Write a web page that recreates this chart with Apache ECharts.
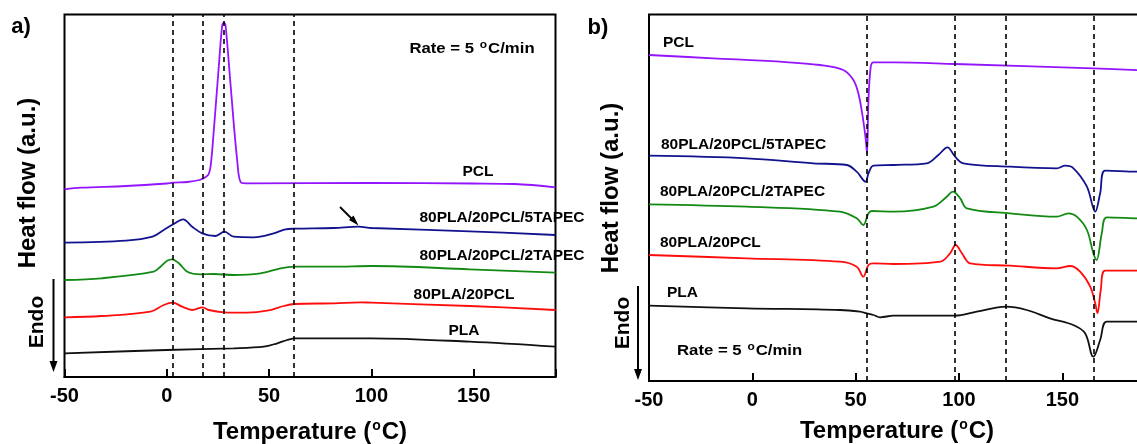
<!DOCTYPE html>
<html><head><meta charset="utf-8">
<script src="https://cdn.jsdelivr.net/npm/echarts@6/dist/echarts.min.js"></script>
<style>html,body{margin:0;padding:0;background:#fff}#c{width:1137px;height:444px}</style>
</head><body><div id="c"></div>
<script>
// ---- data (Temperature °C, heat flow a.u. offset) ----
const xTicks = [-50, 0, 50, 100, 150];
// panel a (cooling)
const aPCL = [[-50,187.7],[-42,189.3],[-20,191],[0,193.5],[3,194.3],[10,195],[16,197],[19,200],[20.5,203],[21.5,212],[23,247],[25.4,310],[27.1,352],[27.9,354],[28.7,352],[31.1,294],[34.4,217],[36.4,194.3],[40,193.7],[100,194],[150,193.5],[170,193],[190,189.7]];
const a5TAPEC = [[-50,134.3],[-20,136.3],[-7,140.3],[-1.5,147],[3.4,153],[8,157.7],[12.4,150.3],[17.3,143.7],[23.8,141],[28.2,145.3],[32.7,140.3],[42.5,139.7],[52.3,143.7],[58,147.7],[62.3,148.3],[81.6,149],[93.8,150.3],[100,149],[148,145.7],[190,142]];
const a2TAPEC = [[-50,97],[-32,98.7],[-6.4,105.3],[-3.1,110.3],[0.2,116.3],[2.6,117.7],[5.9,113.7],[10,105.3],[16.5,102.7],[23,103],[32.7,102],[45.8,103.7],[55.6,108.7],[62.3,110.3],[81.6,110.3],[100,111],[148,107.7],[190,104.3]];
const a20PCL = [[-50,59.7],[-32,61],[-8,65.3],[-1.5,72],[2.9,74.3],[7.5,70.3],[12.4,67],[17.6,69.7],[20.5,67],[27.9,64.7],[39.3,64.3],[49.1,66.3],[57.2,71],[62.3,73],[81.6,73.7],[94.7,74.7],[100,74.3],[148,71],[190,67]];
const aPLA = [[-50,23.7],[0,27],[32.7,28.7],[47.4,30.3],[54,33.7],[58.8,37],[62.9,38.7],[81.6,38.7],[100,38.7],[148,35.3],[190,30.3]];
const aDash = [3, 17.6, 28, 62.3];
// panel b (heating)
const bPCL = [[-50,326],[-19,322.7],[13.4,319.3],[32.8,316],[44,311],[48.9,301],[51.3,287.7],[53.4,264.3],[54.9,241],[55.5,227.5],[56.2,281],[57.3,314.3],[58.6,318.7],[68.3,318.7],[98.1,317],[165,312.7],[190,310.5]];
const b5TAPEC = [[-50,225.3],[-2.7,222.7],[29.5,217.7],[45.7,216],[50.5,209.3],[54.8,199.3],[56.2,207.7],[58.6,215.3],[68.3,216],[84.4,217.7],[90,226],[94.4,233.7],[98.1,224.3],[102.1,217.7],[124.7,214.3],[147.3,212.7],[151.4,215.3],[155.4,212.7],[161.9,194.3],[165.9,169.3],[168.3,187.7],[170.7,210.3],[186,209.3],[190,209]];
const b2TAPEC = [[-50,176.7],[-2.7,174.3],[42.4,169.3],[50.5,162.7],[53.7,156],[56.2,167.7],[57.8,170],[68.3,169.3],[87.6,174.3],[94.1,184.3],[97,189.3],[100.6,182.7],[103.8,172.7],[124.7,167.7],[147.3,164.3],[152.9,167.7],[157,164.3],[161.9,151],[165,127.7],[166.6,121],[169.1,147.7],[171.5,163.7],[186,162.7],[190,162.5]];
const b20PCL = [[-50,126],[-2.7,122.7],[42.4,119.3],[50.5,114.3],[53.7,104.3],[56.2,116],[58.6,117.7],[68.3,117],[90.9,119.3],[95.7,127.7],[98.4,136],[101.4,127.7],[105.4,117.7],[124.7,115.3],[147.3,112.7],[153.8,115],[158.6,109.3],[163.5,94.3],[165.9,77.7],[167,67.7],[168.6,91],[170.7,110.3],[186,110.3],[190,110.3]];
const bPLA = [[-50,75.3],[-2.7,72.7],[42.4,71],[52,69.3],[55.4,67.7],[58.6,66],[61.8,63.7],[68.3,65.3],[98.1,65.3],[108.6,69.3],[122.8,74.3],[132.7,71],[144,62.7],[155.3,56],[161,47.7],[164.2,26],[165,24.3],[168.3,41],[171.5,59.3],[186,59.3],[190,59.3]];
const bDash = [55.4, 98.1, 122.8, 165];
const names = ['PCL','80PLA/20PCL/5TAPEC','80PLA/20PCL/2TAPEC','80PLA/20PCL','PLA'];
const colors = ['#9414ff','#12128f','#138a13','#ff0d0d','#111111'];

const FF = '"Liberation Sans", Arial, sans-serif';
const chart = echarts.init(document.getElementById('c'), null, {renderer:'canvas'});

function xAx(gi, gap){
  return {
    gridIndex: gi, type:'value', min:-50, max:190, interval:50,
    axisLine:{show:true, lineStyle:{color:'#000', width:2}},
    axisTick:{show:true, inside:true, length:8, lineStyle:{color:'#000', width:2}},
    axisLabel:{margin:9, color:'#000', fontFamily:FF, fontWeight:'bold', fontSize:20,
      formatter: v => (xTicks.indexOf(v) >= 0 ? String(v) : '')},
    splitLine:{show:false},
    name:'Temperature ({s|o}C)', nameLocation:'middle', nameGap:gap,
    nameTextStyle:{color:'#000', fontFamily:FF, fontWeight:'bold', fontSize:24,
      rich:{s:{fontSize:14, fontFamily:FF, fontWeight:'bold', color:'#000', padding:[0,1,13,1]}}}
  };
}
function yAx(gi, max){
  return {gridIndex:gi, type:'value', min:0, max:max, show:false};
}
function mkSeries(gi, arr, color, dash){
  const s = {type:'line', xAxisIndex:gi, yAxisIndex:gi, data:arr, showSymbol:false, symbol:'none',
    smooth:0.35, lineStyle:{color:color, width:1.8}, silent:true, animation:false};
  if (dash) {
    s.markLine = {silent:true, symbol:['none','none'], label:{show:false},
      lineStyle:{color:'#000', type:[5,4], width:1.6}, data: dash.map(v => ({xAxis:v})), animation:false};
  }
  return s;
}
const series = [];
[aPCL,a5TAPEC,a2TAPEC,a20PCL,aPLA].forEach((d,i)=>series.push(mkSeries(0,d,colors[i], i===0?aDash:null)));
[bPCL,b5TAPEC,b2TAPEC,b20PCL,bPLA].forEach((d,i)=>series.push(mkSeries(1,d,colors[i], i===0?bDash:null)));

function txt(x,y,t,opts){
  opts = opts||{};
  return {type:'text', x:x, y:y, rotation:opts.rot||0, scaleX:opts.sx||1, z:10,
    style:{text:t, fill:'#000', font:'bold '+(opts.size||15.5)+'px '+FF,
      align:opts.align||'center', verticalAlign:'middle',
      rich: opts.rich || undefined}};
}
const supRich = (sz)=>({s:{fontSize:sz, fontFamily:FF, fontWeight:'bold', fill:'#000', padding:[0,1,9,1]}});
function arrowDown(x,y0,y1){
  return [
    {type:'line', shape:{x1:x,y1:y0,x2:x,y2:y1-9}, style:{stroke:'#000', lineWidth:2}},
    {type:'polygon', shape:{points:[[x-4,y1-11],[x+4,y1-11],[x,y1]]}, style:{fill:'#000'}}
  ];
}
const graphic = [
  txt(21,27,'a)',{size:22}),
  txt(598,28,'b)',{size:22}),
  txt(28,183,'Heat flow (a.u.)',{size:24, rot:Math.PI/2}),
  txt(611,188,'Heat flow (a.u.)',{size:24, rot:Math.PI/2}),
  txt(37,322,'Endo',{size:21, rot:Math.PI/2}),
  txt(623,323,'Endo',{size:21, rot:Math.PI/2}),
  ...arrowDown(53.5,279,372),
  ...arrowDown(638,286,380),
  // panel a labels
  txt(472,49,'Rate = 5 {s|o}C/min',{size:15.5, sx:1.08, rich:supRich(11)}),
  txt(478,172,names[0]),
  txt(502,218,names[1]),
  txt(502,256,names[2]),
  txt(464,295,names[3]),
  txt(464,331,names[4]),
  // panel b labels
  txt(677,351,'Rate = 5 {s|o}C/min',{size:15.5, sx:1.08, align:'left', rich:supRich(11)}),
  txt(663,43,names[0],{align:'left'}),
  txt(661,145,names[1],{align:'left'}),
  txt(660,192,names[2],{align:'left'}),
  txt(660,243,names[3],{align:'left'}),
  txt(667,293,names[4],{align:'left'}),
  // arrow pointing at 5TAPEC curve (panel a)
  {type:'line', shape:{x1:340,y1:207,x2:353,y2:220}, style:{stroke:'#000', lineWidth:1.8}},
  {type:'polygon', shape:{points:[[358.5,225.5],[349,220],[353.5,215.5]]}, style:{fill:'#000'}}
];

chart.setOption({
  animation:false,
  backgroundColor:'#fff',
  grid:[
    {left:64.5, top:14.5, width:491, height:362.5, show:true, borderColor:'#000', borderWidth:2, containLabel:false, outerBoundsMode:'none'},
    {left:649, top:14.5, width:496, height:366.5, show:true, borderColor:'#000', borderWidth:2, containLabel:false, outerBoundsMode:'none'}
  ],
  xAxis:[xAx(0,42), xAx(1,37)],
  yAxis:[yAx(0,362.5), yAx(1,366.5)],
  series: series,
  graphic: graphic
});
</script></body></html>
